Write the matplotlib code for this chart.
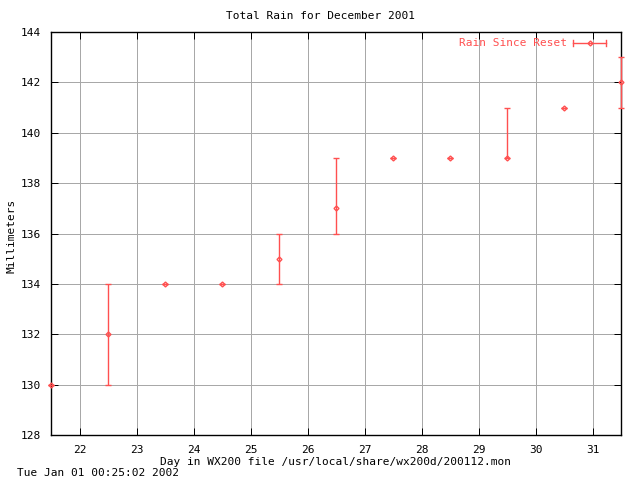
import matplotlib
matplotlib.use("Agg")
import matplotlib.pyplot as plt
from matplotlib.lines import Line2D

days = [21.5, 22.5, 23.5, 24.5, 25.5, 26.5, 27.5, 28.5, 29.5, 30.5, 31.5]
rain = [130, 132, 134, 134, 135, 137, 139, 139, 139, 141, 142]
rain_low = [130, 130, 134, 134, 134, 136, 139, 139, 139, 141, 141]
rain_high = [130, 134, 134, 134, 136, 139, 139, 139, 141, 141, 143]

x_ticks = [22, 23, 24, 25, 26, 27, 28, 29, 30, 31]
y_ticks = [128, 130, 132, 134, 136, 138, 140, 142, 144]

red = '#ff5050'
px = 0.72  # one pixel in points at 100 dpi
plt.rcParams['font.family'] = ['DejaVu Sans Mono']
plt.rcParams['font.size'] = 8

fig = plt.figure(figsize=(6.4, 4.8), dpi=100)
ax = fig.add_axes([51/640, 45/480, 570/640, 403/480])

err = [[r - lo for r, lo in zip(rain, rain_low)], [hi - r for r, hi in zip(rain, rain_high)]]
ax.errorbar(days, rain, yerr=err, fmt='D', color=red, ecolor=red, elinewidth=1,
            capsize=2.5, capthick=1, markersize=2.5, markerfacecolor='none',
            markeredgewidth=1, clip_on=False, zorder=3)

ax.set_xlim(21.5, 31.5)
ax.set_ylim(128, 144)
ax.set_xticks(x_ticks)
ax.set_yticks(y_ticks)
ax.grid(True, color='#a8a8a8', linewidth=px)
ax.set_axisbelow(True)
ax.tick_params(direction='in', length=5, top=True, right=True, width=px, pad=7)
for s in ax.spines.values():
    s.set_linewidth(1)
    s.set_color('black')

fig.text(0.5, 1 - 16/480, 'Total Rain for December 2001', ha='center', va='center')
fig.text(336/640, 1 - 462/480, 'Day in WX200 file /usr/local/share/wx200d/200112.mon',
         ha='center', va='center')
fig.text(12/640, 1 - 236/480, 'Millimeters', rotation=90, ha='center', va='center')
fig.text(17/640, 1 - 473/480, 'Tue Jan 01 00:25:02 2002', ha='left', va='center')

# legend sample drawn gnuplot-style
ly = (435 - 43) / 403
ax.text((567 - 51) / 570, ly, 'Rain Since Reset', color=red, ha='right', va='center',
        transform=ax.transAxes)
x0, x1, xm = (573 - 51) / 570, (606 - 51) / 570, (590 - 51) / 570
ax.add_line(Line2D([x0, x1], [ly, ly], color=red, lw=1, transform=ax.transAxes))
for xc in (x0, x1):
    ax.add_line(Line2D([xc, xc], [ly - 0.008, ly + 0.008], color=red, lw=1, transform=ax.transAxes))
ax.add_line(Line2D([xm], [ly], marker='D', markersize=2.5, markerfacecolor='none',
                   markeredgewidth=1, color=red, transform=ax.transAxes))

fig.savefig('out.png', dpi=100)
